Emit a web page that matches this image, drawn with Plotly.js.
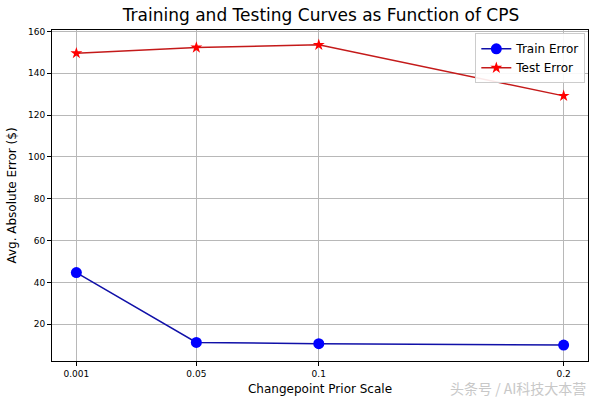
<!DOCTYPE html>
<html>
<head>
<meta charset="utf-8">
<script src="https://cdn.plot.ly/plotly-3.0.1.min.js"></script>
<style>html,body{margin:0;padding:0;background:#fff;}#chart{width:600px;height:404px;}</style>
</head>
<body>
<div id="chart"></div>
<script>
const cps = [0.001, 0.05, 0.1, 0.2];
const tickLabels = ["0.001", "0.05", "0.1", "0.2"];
const trainError = [44.7, 11.3, 10.7, 10.0];
const testError = [149.6, 152.3, 153.6, 129.2];

const traces = [
  {x: cps, y: trainError, name: "Train Error", mode: "lines+markers",
   line: {color: "#1010a8", width: 1.5},
   marker: {color: "#0000ff", size: 11, symbol: "circle"}},
  {x: cps, y: testError, name: "Test Error", mode: "lines+markers",
   line: {color: "#c41a1a", width: 1.5},
   marker: {color: "#ff0000", size: 9, symbol: "star"}}
];

const layout = {
  width: 600, height: 404,
  margin: {l: 52, r: 12, t: 30, b: 43},
  paper_bgcolor: "#fff", plot_bgcolor: "#fff",
  font: {family: "DejaVu Sans", color: "#000"},
  title: {text: "Training and Testing Curves as Function of CPS", font: {size: 17}, x: 0.535, xanchor: "center", y: 0.962, yanchor: "middle"},
  xaxis: {range: [-0.00895, 0.20995], tickvals: cps, ticktext: tickLabels,
    showgrid: true, gridcolor: "#b8b8b8", gridwidth: 1, zeroline: false,
    showline: true, linecolor: "#000", linewidth: 1, mirror: true,
    ticks: "outside", ticklen: 4, tickcolor: "#000", tickfont: {size: 9},
    title: {text: "Changepoint Prior Scale", font: {size: 12}, standoff: 6}},
  yaxis: {range: [2.4, 160.7], tickvals: [20, 40, 60, 80, 100, 120, 140, 160],
    showgrid: true, gridcolor: "#b8b8b8", gridwidth: 1, zeroline: false,
    showline: true, linecolor: "#000", linewidth: 1, mirror: true,
    ticks: "outside", ticklen: 4, tickcolor: "#000", tickfont: {size: 9},
    title: {text: "Avg. Absolute Error ($)", font: {size: 12}, standoff: 8}},
  legend: {x: 0.995, y: 0.99, xanchor: "right", yanchor: "top",
    bgcolor: "rgba(255,255,255,0.9)", bordercolor: "#cccccc", borderwidth: 1,
    font: {size: 12}},
  showlegend: true,
  annotations: [{text: "头条号 / AI科技大本营", xref: "paper", yref: "paper", x: 1.0, y: -0.082,
    xanchor: "right", yanchor: "middle", showarrow: false,
    font: {family: "Noto Sans CJK SC", size: 14, color: "#c8c8c8"}}]
};

Plotly.newPlot("chart", traces, layout, {displayModeBar: false, staticPlot: true});
</script>
</body>
</html>
